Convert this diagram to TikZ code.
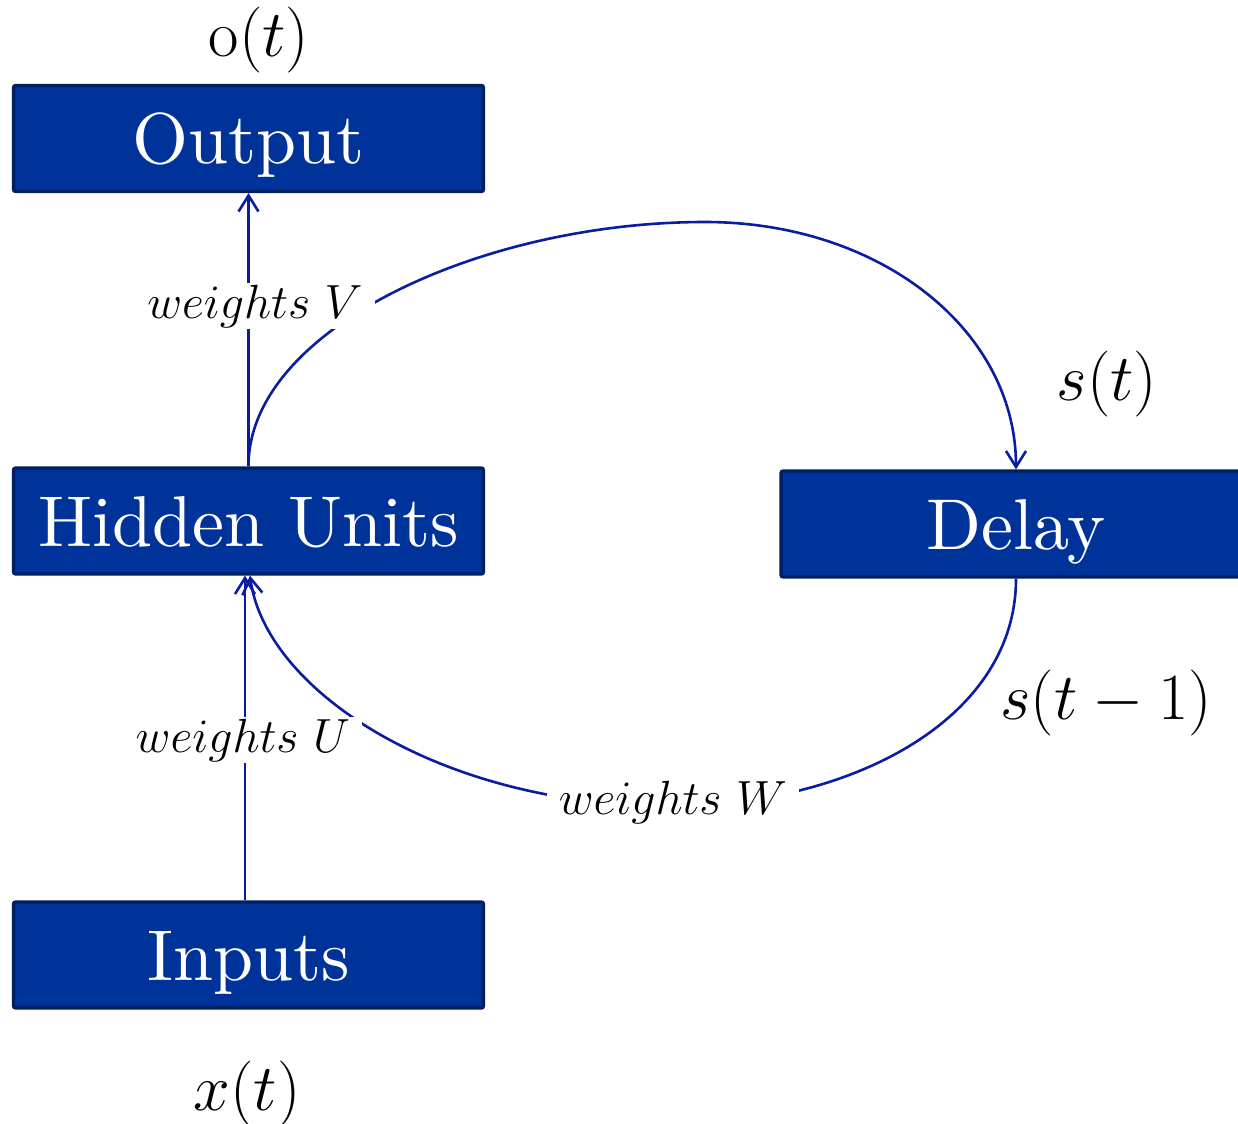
\documentclass[tikz,border=0pt]{standalone}
\usepackage{fix-cm}
\usetikzlibrary{arrows.meta}
\definecolor{boxfill}{RGB}{0,51,153}
\definecolor{boxedge}{RGB}{0,30,96}
\definecolor{wirecol}{RGB}{10,28,160}
% block captions use the 10pt design of Latin Modern Roman, scaled up
\font\blockfont="[lmroman10-regular.otf]" at 36pt
\begin{document}
\begin{tikzpicture}[x=0.5pt,y=-0.5pt,
  block/.style={draw=boxedge, fill=boxfill, line width=1.6pt, rounded corners=1pt,
    minimum width=235pt, minimum height=53pt, inner sep=0pt,
    text height=25pt, text depth=0pt, text=white, font=\blockfont},
  wire/.style={draw=wirecol, line width=1.3pt, -{Straight Barb[length=8pt,width=10pt]}},
  varlabel/.style={inner sep=0pt, font=\fontsize{33}{38}\selectfont},
  wlabel/.style={fill=white, inner xsep=6pt, inner ysep=1pt, font=\fontsize{24}{28}\selectfont}]
\useasboundingbox (0,0) rectangle (1238,1124);

% blocks
\node[block] (out) at (248.5,138.5) {Output};
\node[block] (hid) at (248.5,521) {Hidden Units};
\node[block] (inp) at (248.5,955) {Inputs};
\node[block] (del) at (1016,524) {Delay};

% connections
\draw[wire] (hid.north) -- (out.south);
\draw[wire] ([xshift=-1.75pt]inp.north) -- ([xshift=-1.75pt]hid.south);
\draw[wire] (hid.north) .. controls (248,330) and (480,222) .. (705,222)
  .. controls (880,222) and (1016,330) .. (del.north);
\draw[wire] (del.south) .. controls (1016,720) and (850,806) .. (670,806)
  .. controls (440,806) and (265,690) .. ([xshift=0.75pt]hid.south);

% weight labels
\node[wlabel] (wv) at (255,306) {$weights\ V$};
\node[wlabel] (wu) at (243,740) {$weights\ U$};
\node[wlabel] (ww) at (673,802) {$weights\ W$};

% signal labels
\node[varlabel] (ot) at (259,40) {$\mathrm{o}(t)$};
\node[varlabel] (st) at (1107,384) {$s(t)$};
\node[varlabel] (st1) at (1106,703) {$s(t-1)$};
\node[varlabel] (xt) at (247,1094) {$x(t)$};
\end{tikzpicture}
\end{document}
